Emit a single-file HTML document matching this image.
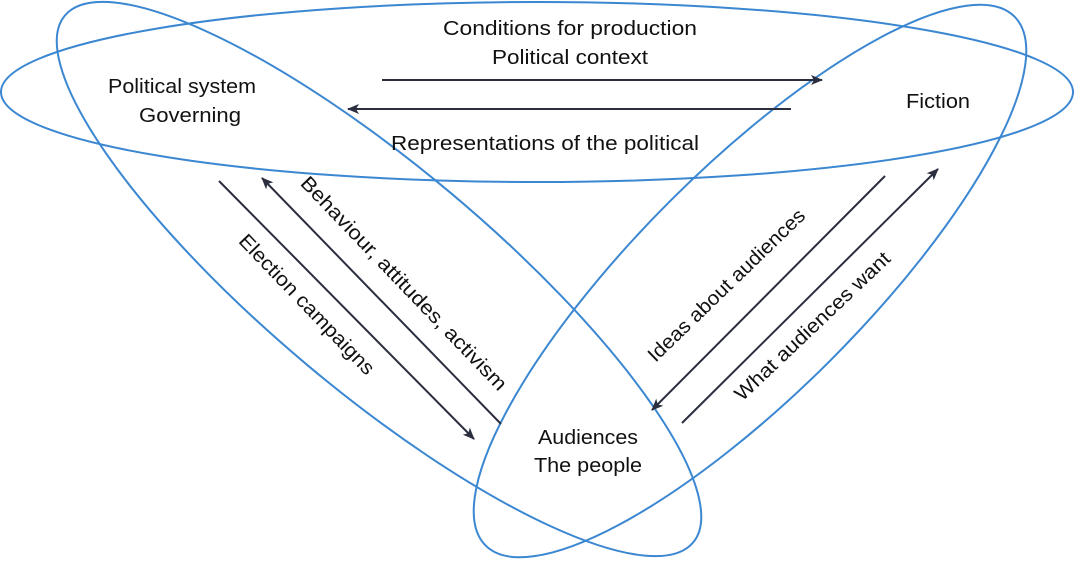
<!DOCTYPE html>
<html><head><meta charset="utf-8"><style>
html,body{margin:0;padding:0;background:#fff;overflow:hidden;width:1074px;height:562px;}
svg{display:block;}
text{font-family:"Liberation Sans",sans-serif;font-size:20px;fill:#111;}
</style></head><body>
<svg width="1074" height="562" viewBox="0 0 1074 562" xmlns="http://www.w3.org/2000/svg">
<defs>
<marker id="ah" markerWidth="12" markerHeight="10" refX="11" refY="5" orient="auto" markerUnits="userSpaceOnUse">
<path d="M0,0 L12,5 L0,10 L3,5 Z" fill="#2a2e3f"/>
</marker>
</defs>
<g fill="none" stroke="#3b87d1" stroke-width="2">
<ellipse cx="537" cy="92" rx="536" ry="90"/>
<ellipse cx="379" cy="279" rx="410" ry="112" transform="rotate(40 379 279)"/>
<ellipse cx="750" cy="281" rx="374" ry="113" transform="rotate(-45 750 281)"/>
</g>
<g stroke="#2a2e3f" stroke-width="2" fill="none">
<line x1="382" y1="80" x2="822" y2="80" marker-end="url(#ah)"/>
<line x1="791" y1="109" x2="348" y2="109" marker-end="url(#ah)"/>
<line x1="219" y1="181" x2="474" y2="439" marker-end="url(#ah)"/>
<line x1="501" y1="424" x2="262" y2="178" marker-end="url(#ah)"/>
<line x1="885" y1="176" x2="652" y2="410" marker-end="url(#ah)"/>
<line x1="682" y1="423" x2="938" y2="169" marker-end="url(#ah)"/>
</g>
<text x="570" y="35" text-anchor="middle" textLength="254" lengthAdjust="spacingAndGlyphs">Conditions for production</text>
<text x="570" y="64" text-anchor="middle" textLength="156" lengthAdjust="spacingAndGlyphs">Political context</text>
<text x="545" y="150" text-anchor="middle" textLength="308" lengthAdjust="spacingAndGlyphs">Representations of the political</text>
<text x="182" y="93" text-anchor="middle" textLength="148" lengthAdjust="spacingAndGlyphs">Political system</text>
<text x="190" y="122" text-anchor="middle" textLength="102" lengthAdjust="spacingAndGlyphs">Governing</text>
<text x="938" y="108" text-anchor="middle" textLength="64" lengthAdjust="spacingAndGlyphs">Fiction</text>
<text x="588" y="444" text-anchor="middle" textLength="100" lengthAdjust="spacingAndGlyphs">Audiences</text>
<text x="588" y="472" text-anchor="middle" textLength="108" lengthAdjust="spacingAndGlyphs">The people</text>
<text transform="translate(399 288) rotate(46.2)" text-anchor="middle" textLength="288" lengthAdjust="spacingAndGlyphs">Behaviour, attitudes, activism</text>
<text transform="translate(302 309) rotate(46.2)" text-anchor="middle" textLength="186" lengthAdjust="spacingAndGlyphs">Election campaigns</text>
<text transform="translate(731 290) rotate(-44)" text-anchor="middle" textLength="210" lengthAdjust="spacingAndGlyphs">Ideas about audiences</text>
<text transform="translate(817 331) rotate(-43.5)" text-anchor="middle" textLength="206" lengthAdjust="spacingAndGlyphs">What audiences want</text>
</svg>
</body></html>
